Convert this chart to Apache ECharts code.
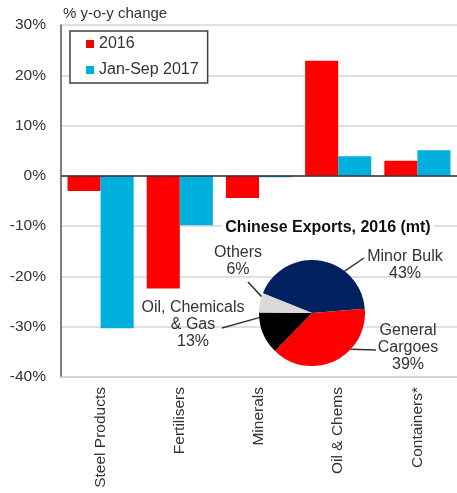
<!DOCTYPE html>
<html>
<head>
<meta charset="utf-8">
<script src="https://cdn.jsdelivr.net/npm/echarts@6/dist/echarts.min.js"></script>
<style>
html,body{margin:0;padding:0;background:#fff;}
#c{width:457px;height:493px;}
</style>
</head>
<body>
<div id="c"></div>
<script>
// ---- data ----
var categories = ['Steel Products', 'Fertilisers', 'Minerals', 'Oil & Chems', 'Containers*'];
var series2016 = [-3.0, -22.4, -4.4, 22.9, 3.0];
var seriesJanSep2017 = [-30.3, -9.8, -0.3, 3.9, 5.1];
var yTicks = { min: -40, max: 30, interval: 10 };
var pieNames = ['Minor Bulk', 'General\nCargoes', 'Oil, Chemicals\n& Gas', 'Others'];
var pieValues = [43, 39, 13, 6];
var pieTitle = 'Chinese Exports, 2016 (mt)';
var yAxisName = '% y-o-y change';

// ---- layout (styles/positions) ----
var FONT = 'Liberation Sans, Arial, Helvetica, sans-serif';
var pieColors = ['#002060', '#ff0000', '#000000', '#d9d9d9'];
var PIE_C = [312, 313], PIE_R = 53;
var pieLabelCenters = [[405, 265], [408, 348], [193, 325], [238, 261]];
// leader lines: angle (deg) on the pie rim where the line starts, and the end point near the label
var leaderAngles = [52, -43, 185, 162];
var leaderEnds = [[364, 258], [376, 350], [222, 328], [248, 282]];

function rimPoint(deg) {
  var a = deg * Math.PI / 180;
  return [PIE_C[0] + PIE_R * Math.cos(a), PIE_C[1] - PIE_R * Math.sin(a)];
}

var chart = echarts.init(document.getElementById('c'), null, { renderer: 'canvas' });
var option = {
  animation: false,
  textStyle: { fontFamily: FONT },
  title: {
    text: pieTitle,
    left: 325,
    top: 220,
    textAlign: 'center',
    padding: [0, 3],
    backgroundColor: '#fff',
    textStyle: { fontFamily: FONT, fontSize: 16, fontWeight: 'bold', color: '#111' }
  },
  legend: {
    orient: 'vertical',
    left: 70,
    top: 31,
    data: ['2016', 'Jan-Sep 2017'],
    icon: 'rect',
    itemWidth: 8,
    itemHeight: 8,
    itemGap: 10,
    padding: [5, 9, 5, 16],
    borderColor: '#404040',
    borderWidth: 1.5,
    backgroundColor: '#fff',
    textStyle: { fontFamily: FONT, fontSize: 16, color: '#333' },
    z: 10
  },
  grid: { left: 61, top: 25, right: -9, bottom: 116, containLabel: false },
  xAxis: {
    type: 'category',
    data: categories,
    axisLine: { onZero: false, lineStyle: { color: '#d0d0d0', width: 1.5 } },
    axisTick: { show: false },
    axisLabel: { rotate: 90, margin: 10, fontSize: 15.5, color: '#333', fontFamily: FONT, interval: 0 }
  },
  yAxis: {
    type: 'value',
    min: yTicks.min,
    max: yTicks.max,
    interval: yTicks.interval,
    name: yAxisName,
    nameLocation: 'end',
    nameGap: 4,
    nameTextStyle: { align: 'left', fontSize: 15, color: '#333', fontFamily: FONT, padding: [0, 0, 0, 2] },
    axisLine: { show: true, lineStyle: { color: '#555', width: 1.5 } },
    axisTick: { show: false },
    axisLabel: { formatter: '{value}%', fontSize: 15.5, color: '#333', margin: 15, fontFamily: FONT },
    splitLine: { lineStyle: { color: '#d6d6d6', width: 1.5 } }
  },
  series: [
    {
      name: '2016',
      type: 'bar',
      data: series2016,
      barGap: '0%',
      barCategoryGap: '16.5%',
      itemStyle: { color: '#ff0000' },
      markLine: {
        silent: true,
        symbol: 'none',
        label: { show: false },
        lineStyle: { color: '#333', width: 1.5, type: 'solid' },
        data: [{ yAxis: 0 }]
      }
    },
    {
      name: 'Jan-Sep 2017',
      type: 'bar',
      data: seriesJanSep2017,
      itemStyle: { color: '#00b0dc' }
    },
    {
      name: 'pie',
      type: 'pie',
      center: PIE_C,
      radius: PIE_R,
      startAngle: 158,
      clockwise: true,
      avoidLabelOverlap: false,
      z: 5,
      data: pieNames.map(function (n, i) {
        return { name: n, value: pieValues[i], itemStyle: { color: pieColors[i] } };
      }),
      label: {
        show: true,
        position: 'outside',
        formatter: function (p) { return p.name + '\n' + p.value + '%'; },
        fontSize: 16,
        lineHeight: 17,
        color: '#333',
        fontFamily: FONT
      },
      labelLine: { show: true, length: 8, length2: 4, lineStyle: { color: '#333', width: 1.5 } },
      labelLayout: function (params) {
        var i = params.dataIndex;
        var c = pieLabelCenters[i];
        var s = rimPoint(leaderAngles[i]);
        var e = leaderEnds[i];
        return {
          x: c[0], y: c[1], align: 'center', verticalAlign: 'middle',
          labelLinePoints: [s, e, e]
        };
      },
      emphasis: { disabled: true }
    }
  ]
};
chart.setOption(option);
</script>
</body>
</html>
